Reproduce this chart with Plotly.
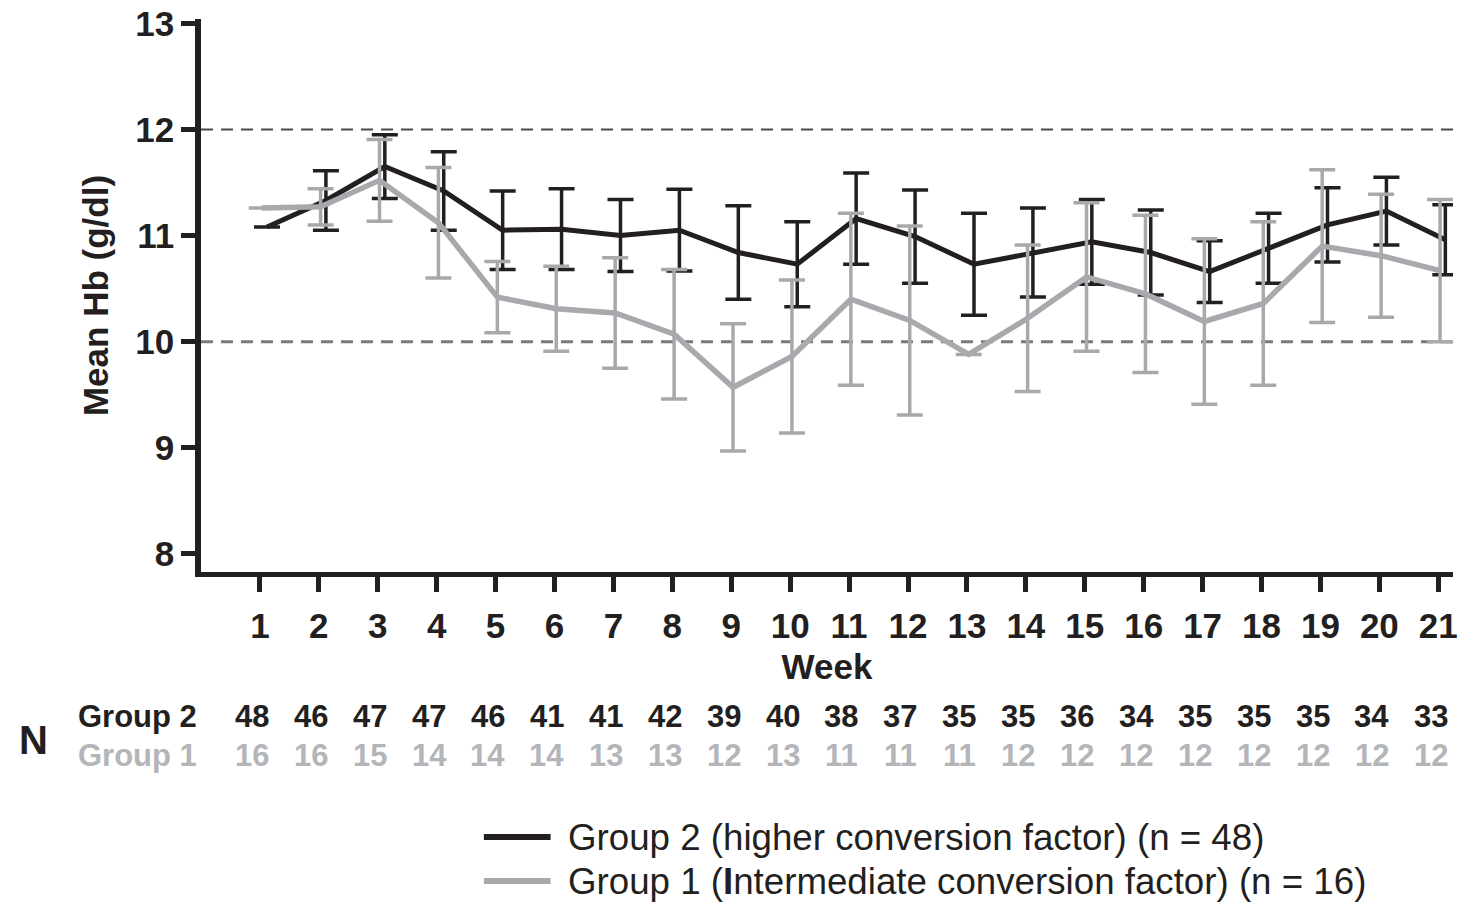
import plotly.graph_objects as go

# ---- data -------------------------------------------------------------
weeks = list(range(1, 22))

# Group 2 (higher conversion factor): mean Hb and SD per week
group2_mean = [11.08, 11.33, 11.65, 11.42, 11.05, 11.06, 11.00, 11.05, 10.84, 10.73, 11.16,
               10.99, 10.73, 10.84, 10.94, 10.84, 10.66, 10.88, 11.10, 11.23, 10.96]
group2_sd = [None, 0.28, 0.30, 0.37, 0.37, 0.38, 0.34, 0.385, 0.44, 0.40, 0.43,
             0.44, 0.48, 0.42, 0.40, 0.40, 0.29, 0.33, 0.35, 0.32, 0.33]

# Group 1 (intermediate conversion factor): mean Hb and SD per week
group1_mean = [11.26, 11.27, 11.52, 11.12, 10.42, 10.31, 10.27, 10.07, 9.57, 9.86, 10.40,
               10.20, 9.88, 10.22, 10.61, 10.45, 10.19, 10.36, 10.90, 10.81, 10.67]
group1_sd = [None, 0.17, 0.385, 0.52, 0.335, 0.40, 0.52, 0.61, 0.60, 0.72, 0.81,
             0.89, None, 0.69, 0.70, 0.74, 0.78, 0.77, 0.72, 0.58, 0.67]

# number of patients per week
group2_n = [48, 46, 47, 47, 46, 41, 41, 42, 39, 40, 38, 37, 35, 35, 36, 34, 35, 35, 35, 34, 33]
group1_n = [16, 16, 15, 14, 14, 14, 13, 13, 12, 13, 11, 11, 11, 12, 12, 12, 12, 12, 12, 12, 12]

y_ticks = [8, 9, 10, 11, 12, 13]
target_band = [10, 12]

group2_label = "Group 2 (higher conversion factor) (n = 48)"
group1_label = "Group 1 (<b>I</b>ntermediate conversion factor) (n = 16)"

# ---- styling ----------------------------------------------------------
INK = "#231f20"
GREY = "#a7a9ac"
GREY_TEXT = "#b3b5b8"
FONT = "Liberation Sans, Arial, sans-serif"

W, H = 1458, 903
PL, PR, PT, PB = 201, 1458, 19, 572  # plot area edges in pixels


def fx(p):
    return (p - PL) / (PR - PL)


def fy(p):
    return (PB - p) / (PB - PT)


# small horizontal dodge so the two series' error bars don't overlap
dodge2, dodge1 = 0.12, 0.03

fig = go.Figure()

fig.add_trace(go.Scatter(
    x=[w + dodge2 for w in weeks], y=group2_mean, mode="lines",
    line=dict(color=INK, width=5),
    error_y=dict(type="data", array=group2_sd, symmetric=True,
                 color=INK, thickness=3.5, width=13),
    showlegend=False,
))
fig.add_trace(go.Scatter(
    x=[w + dodge1 for w in weeks], y=group1_mean, mode="lines",
    line=dict(color=GREY, width=5.5),
    error_y=dict(type="data", array=group1_sd, symmetric=True,
                 color=GREY, thickness=3.5, width=13),
    showlegend=False,
))

# reference lines at 12 and 10 g/dl
fig.add_shape(type="line", xref="paper", yref="y", x0=0, x1=1,
              y0=target_band[1], y1=target_band[1], layer="below",
              line=dict(color="#4a4a4a", width=2, dash="12px,8px"))
fig.add_shape(type="line", xref="paper", yref="y", x0=0, x1=1,
              y0=target_band[0], y1=target_band[0], layer="below",
              line=dict(color="#7a7a7a", width=3, dash="12px,8px"))

annotations = []

# patient-count table under the axis
annotations.append(dict(text="<b>N</b>", xref="paper", yref="paper",
                        x=fx(33), y=fy(740), xanchor="center", yanchor="middle",
                        showarrow=False, font=dict(family=FONT, size=40, color=INK)))
annotations.append(dict(text="<b>Group 2</b>", xref="paper", yref="paper",
                        x=fx(76), y=fy(716), xanchor="left", yanchor="middle",
                        showarrow=False, font=dict(family=FONT, size=31, color=INK)))
annotations.append(dict(text="<b>Group 1</b>", xref="paper", yref="paper",
                        x=fx(76), y=fy(755), xanchor="left", yanchor="middle",
                        showarrow=False, font=dict(family=FONT, size=31, color=GREY_TEXT)))
for w, n2, n1 in zip(weeks, group2_n, group1_n):
    annotations.append(dict(text=f"<b>{n2}</b>", xref="x", yref="paper",
                            x=w - 0.13, y=fy(716), xanchor="center", yanchor="middle",
                            showarrow=False, font=dict(family=FONT, size=31, color=INK)))
    annotations.append(dict(text=f"<b>{n1}</b>", xref="x", yref="paper",
                            x=w - 0.13, y=fy(755), xanchor="center", yanchor="middle",
                            showarrow=False, font=dict(family=FONT, size=31, color=GREY_TEXT)))

# legend drawn as line samples with labels
for ypix, col, label in [(837, INK, group2_label), (881, GREY, group1_label)]:
    fig.add_shape(type="line", xref="paper", yref="paper",
                  x0=fx(485), x1=fx(552), y0=fy(ypix), y1=fy(ypix),
                  line=dict(color=col, width=6))
    annotations.append(dict(text=label, xref="paper", yref="paper",
                            x=fx(567), y=fy(ypix), xanchor="left", yanchor="middle",
                            showarrow=False, font=dict(family=FONT, size=36.7, color=INK)))

fig.update_layout(
    width=W, height=H,
    margin=dict(l=PL, r=W - PR, t=PT, b=H - PB, pad=0),
    paper_bgcolor="white", plot_bgcolor="white",
    font=dict(family=FONT, color=INK),
    annotations=annotations,
    xaxis=dict(
        range=[0, 21.25], tickmode="array", tickvals=weeks,
        ticktext=[str(w) for w in weeks],
        ticks="outside", ticklen=15, tickwidth=5, tickcolor=INK,
        ticklabelstandoff=4, ticklabeloverflow="allow",
        showline=True, linewidth=5, linecolor=INK,
        showgrid=False, zeroline=False,
        tickfont=dict(family=FONT, size=35, color=INK, weight="bold"),
        title=dict(text="Week", standoff=12,
                   font=dict(family=FONT, size=35, color=INK, weight="bold")),
    ),
    yaxis=dict(
        range=[7.83, 13.04], tickmode="array", tickvals=y_ticks,
        ticks="outside", ticklen=14, tickwidth=5, tickcolor=INK,
        showline=True, linewidth=5.5, linecolor=INK,
        showgrid=False, zeroline=False,
        tickfont=dict(family=FONT, size=35, color=INK, weight="bold"),
        title=dict(text="Mean Hb (g/dl)", standoff=18,
                   font=dict(family=FONT, size=35, color=INK, weight="bold")),
    ),
)

fig.write_html("out.html")
